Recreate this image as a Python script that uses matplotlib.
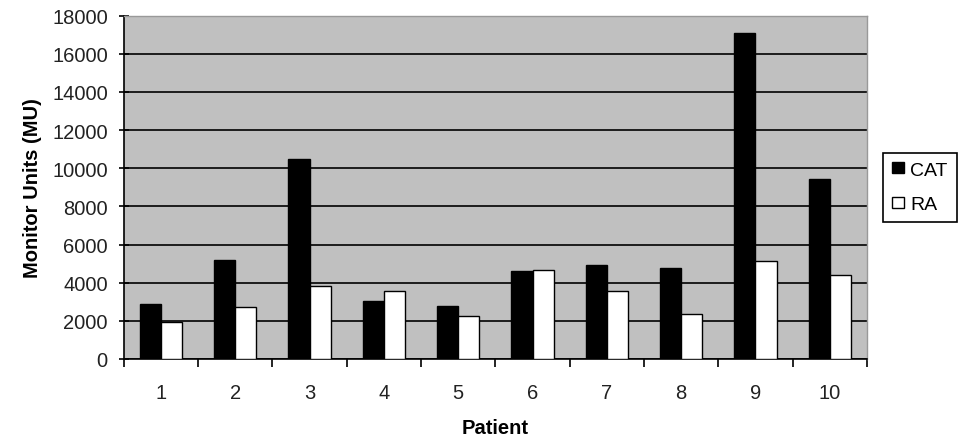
import matplotlib
matplotlib.use("Agg")
import matplotlib.pyplot as plt
import numpy as np

patients = ["1", "2", "3", "4", "5", "6", "7", "8", "9", "10"]
cat = [2870, 5180, 10500, 3020, 2760, 4600, 4930, 4770, 17110, 9420]
ra = [1960, 2730, 3810, 3580, 2240, 4670, 3570, 2340, 5140, 4410]
yticks = [0, 2000, 4000, 6000, 8000, 10000, 12000, 14000, 16000, 18000]

plt.rcParams['font.family'] = ['Liberation Sans', 'DejaVu Sans']

fig = plt.figure(figsize=(9.6, 4.39), dpi=100)
ax = fig.add_axes([0.129, 0.180, 0.774, 0.782])
ax.set_facecolor('#C0C0C0')

x = np.arange(len(patients))
w = 0.285
ax.bar(x - w/2, cat, w, color='black', edgecolor='black', linewidth=1, label='CAT', zorder=3)
ax.bar(x + w/2, ra, w, color='white', edgecolor='black', linewidth=1, label='RA', zorder=3)

ax.set_xlim(-0.5, len(patients) - 0.5)
ax.set_ylim(0, 18000)
ax.set_yticks(yticks)
ax.set_yticklabels([str(v) for v in yticks], fontsize=14.5, color='#222222')
ax.yaxis.grid(True, color='black', linewidth=1.2, zorder=1)
ax.set_axisbelow(True)

ax.set_xticks(x)
ax.set_xticklabels(patients, fontsize=14.5, color='#222222')
ax.tick_params(axis='x', length=0, pad=17)
ax.set_xticks(np.arange(-0.5, len(patients)), minor=True)
ax.tick_params(axis='x', which='minor', length=6, width=1.2, direction='out')
ax.tick_params(axis='y', length=7, width=1.2, direction='inout', pad=8)

for s in ['top', 'right']:
    ax.spines[s].set_color('#999999')
    ax.spines[s].set_linewidth(1)
for s in ['left', 'bottom']:
    ax.spines[s].set_color('black')
    ax.spines[s].set_linewidth(1.2)

ax.set_xlabel('Patient', fontsize=14.5, fontweight='bold', labelpad=12)
ax.set_ylabel('Monitor Units (MU)', fontsize=14.5, fontweight='bold', labelpad=7)

leg = ax.legend(loc='center left', bbox_to_anchor=(1.0215, 0.50), fontsize=14,
                frameon=True, fancybox=False, edgecolor='black', framealpha=1,
                handlelength=0.62, handleheight=0.5, handletextpad=0.35,
                borderpad=0.45, labelspacing=0.9, borderaxespad=0)
leg.get_frame().set_linewidth(1.2)

fig.savefig('out.png', dpi=100)
